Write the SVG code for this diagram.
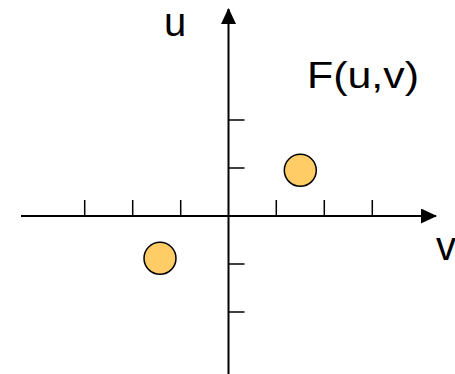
<svg xmlns="http://www.w3.org/2000/svg" width="455" height="374" viewBox="0 0 455 374">
<style>
.ax{stroke:#000;stroke-width:2;fill:none}
.tk{stroke:#000;stroke-width:1.5;fill:none}
.pt{fill:#FFCC66;stroke:#000;stroke-width:1.5}
.lb{font-family:"Liberation Sans",Arial,sans-serif;fill:#000}
</style>
<defs>
<marker id="ah" markerWidth="16" markerHeight="15" refX="15" refY="7.5" orient="auto" markerUnits="userSpaceOnUse">
<path d="M0,0 L16,7.5 L0,15 Z" fill="#000"/>
</marker>
</defs>
<g id="connectors">
<line class="ax" x1="21" y1="216" x2="436" y2="216" marker-end="url(#ah)"/>
<line class="ax" x1="228.5" y1="374" x2="228.5" y2="9" marker-end="url(#ah)"/>
<path class="tk" d="M84.7,200 V216 M132.7,200 V216 M180.7,200 V216 M276.3,200 V216 M324.3,200 V216 M372.3,200 V216"/>
<path class="tk" d="M228.5,120 H244.5 M228.5,168 H244.5 M228.5,264 H244.5 M228.5,312 H244.5"/>
</g>
<g id="point1"><circle class="pt" cx="300.3" cy="170.3" r="16"/></g>
<g id="point2"><circle class="pt" cx="160" cy="258.3" r="16"/></g>
<g id="label-u"><text class="lb" x="164" y="36" font-size="40">u</text></g>
<g id="label-v"><text class="lb" x="436" y="260" font-size="40">v</text></g>
<g id="label-F"><text class="lb" x="307" y="88.3" font-size="37" textLength="112" lengthAdjust="spacingAndGlyphs">F(u,v)</text></g>
</svg>
